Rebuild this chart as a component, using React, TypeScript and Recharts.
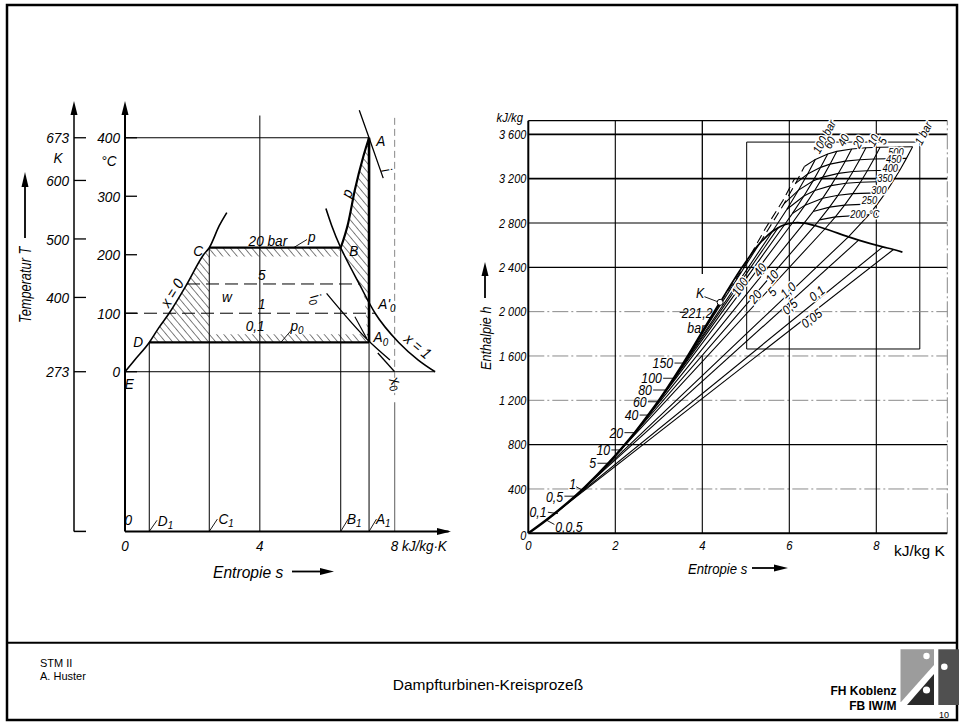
import React from 'react';
import {
  ComposedChart,
  Line,
  Area,
  XAxis,
  YAxis,
  ReferenceLine,
  ReferenceDot,
  ReferenceArea,
} from 'recharts';

const FONT = "'Liberation Sans', Arial, 'DejaVu Sans', sans-serif";
const SANS = "'Liberation Sans', Arial, sans-serif";

// ---------- T-s diagram (left) ----------
const tsTicksS = [0, 4, 8];
const tsTicksC = [0, 100, 200, 300, 400];
const tsTicksK = [273, 400, 500, 600, 673];

// boiling line x = 0  [s kJ/kgK, T degC]
const tsLiquid = [[0, 0], [0.3, 21], [0.72, 50], [1.0, 75], [1.31, 100], [1.84, 150], [2.33, 200], [2.5, 212], [2.8, 250], [3.02, 272]];
// dew line x = 1
const tsVapour = [[5.96, 279], [6.13, 250], [6.4, 212], [6.5, 200], [6.95, 150], [7.42, 100], [8.12, 50], [8.7, 20], [9.2, 0]];
// 20 bar superheating B -> A
const tsSuperheat = [[6.4, 212], [6.62, 254], [6.82, 311], [7.07, 368], [7.24, 400]];
const tsIsobar20 = [[2.5, 212], [6.4, 212]];
const tsIsobar01 = [[0.72, 50], [7.24, 50]];
const tsExpansion = [[7.24, 400], [7.24, 50]];
const tsEnthalpyA = [[6.95, 447], [7.24, 400], [7.66, 331]];
const tsEnthalpyA0 = [[5.98, 134], [7.24, 52], [7.86, 20]];
const tsX0 = [[7.5, 32], [8.0, 0]];
const tsArrowA0 = [[6.82, 94], [7.17, 57]];

// hatched parts of the cycle area [s, low T, high T]
const hatchLeft = [[0.72, 50, 50], [1.0, 50, 75], [1.31, 50, 100], [1.84, 50, 150], [2.33, 50, 200], [2.5, 50, 212]];
const hatchTop = [[2.5, 197, 212], [6.4, 197, 212]];
const hatchBottom = [[2.5, 50, 64], [7.24, 50, 64]];
const hatchRight = [[6.4, 212, 212], [6.5, 200, 232], [6.62, 186, 254], [6.82, 163, 311], [6.95, 150, 340], [7.07, 135, 368], [7.12, 120, 378], [7.18, 64, 390], [7.24, 50, 400]];

const toST = (a: number[][]) => a.map(([s, T]) => ({ s, T }));
const toRange = (a: number[][]) => a.map(([s, lo, hi]) => ({ s, r: [lo, hi] }));
const toSH = (a: number[][]) => a.map(([s, h]) => ({ s, h }));

// ---------- h-s diagram (right) ----------
const hsTicksS = [0, 2, 4, 6, 8];
const hsTicksH = [0, 400, 800, 1200, 1600, 2000, 2400, 2800, 3200, 3600];
const hsGridStrong = [800, 2400, 2800, 3200, 3600];
const hsGridLight = [400, 1200, 1600, 2000];

const hsLiquid = [[0, 0], [0.476, 138], [0.649, 192], [1.091, 340], [1.303, 417], [1.86, 640], [2.138, 763], [2.447, 908], [2.797, 1087], [3.027, 1213], [3.207, 1317], [3.36, 1408], [3.684, 1610], [4.015, 1827], [4.41, 2084]];
const hsVapour = [[4.41, 2084], [4.93, 2410], [5.31, 2611], [5.615, 2725], [5.745, 2758], [5.89, 2784], [6.07, 2800], [6.186, 2803], [6.339, 2799], [6.585, 2777], [6.821, 2748], [7.359, 2675], [7.593, 2645], [8.149, 2584], [8.395, 2561], [8.6, 2537]];

const p150 = [[3.684, 1610], [5.31, 2611]];
const p100 = [[3.36, 1408], [5.615, 2725], [5.946, 2924], [6.213, 3097], [6.422, 3242], [6.599, 3374]];
const p80 = [[3.207, 1317], [5.745, 2758]];
const p60 = [[3.027, 1213], [5.89, 2784], [6.07, 2885], [6.336, 3043], [6.543, 3178], [6.721, 3302], [6.883, 3423]];
const p40 = [[2.797, 1087], [6.07, 2800], [6.362, 2961], [6.584, 3093], [6.77, 3214], [6.936, 3331], [7.09, 3446]];
const p20 = [[2.447, 908], [6.339, 2799], [6.547, 2903], [6.768, 3024], [6.958, 3137], [7.129, 3248], [7.287, 3358], [7.434, 3468]];
const p10 = [[2.138, 763], [6.585, 2777], [6.694, 2828], [6.925, 2943], [7.123, 3051], [7.301, 3158], [7.465, 3264], [7.617, 3371], [7.762, 3479]];
const p5 = [[1.86, 640], [6.821, 2748], [7.059, 2855], [7.271, 2961], [7.46, 3065], [7.635, 3168], [7.794, 3272], [7.945, 3377], [8.087, 3484]];
const p1 = [[1.303, 417], [7.359, 2675], [7.834, 2875], [8.033, 2975], [8.215, 3074], [8.385, 3176], [8.543, 3278], [8.693, 3383], [8.834, 3488]];
const p05 = [[1.091, 340], [7.593, 2645]];
const p01 = [[0.649, 192], [8.149, 2584]];
const p005 = [[0.476, 138], [8.395, 2561]];
const pDashed150 = [[5.31, 2611], [5.881, 2975], [6.143, 3157], [6.348, 3310]];
const pDashedCrit = [[4.41, 2084], [4.95, 2400], [5.45, 2750], [5.85, 3000], [6.12, 3200]];

const t500 = [[6.348, 3310], [6.599, 3374], [6.883, 3423], [7.09, 3446], [7.434, 3468], [7.762, 3479], [8.087, 3484], [8.834, 3488]];
const t450 = [[6.143, 3157], [6.422, 3242], [6.721, 3302], [6.936, 3331], [7.287, 3358], [7.617, 3371], [7.945, 3377], [8.693, 3383]];
const t400 = [[5.881, 2975], [6.213, 3097], [6.543, 3178], [6.77, 3214], [7.129, 3248], [7.465, 3264], [7.794, 3272], [8.543, 3278]];
const t350 = [[5.946, 2924], [6.336, 3043], [6.584, 3093], [6.958, 3137], [7.301, 3158], [7.635, 3168], [8.385, 3176]];
const t300 = [[6.07, 2885], [6.362, 2961], [6.768, 3024], [7.123, 3051], [7.46, 3065], [8.215, 3074]];
const t250 = [[6.547, 2903], [6.925, 2943], [7.271, 2961], [8.033, 2975]];
const t200 = [[6.694, 2828], [7.059, 2855], [7.834, 2875]];

const hsThinLines = [p150, p80, p05, p01, p005, p100, p60, p40, p20, p10, p5, p1];
const hsIsotherms = [t500, t450, t400, t350, t300, t250, t200];

// ---------- labels ----------
type Lbl = [number, number, React.ReactNode, number?, string?];

const sub = (main: string, s: string) => (
  <>
    {main}
    <tspan fontSize="0.72em" dy="0.3em">{s}</tspan>
  </>
);

const tsLabels: Lbl[] = [
  [7.59, 396, 'A'], [6.79, 208, 'B'], [2.17, 208, 'C'], [0.39, 51, 'D'], [0.13, -20, 'E'],
  [0.1, -252, '0'], [7.59, 60, sub('A', '0')], [7.77, 117, sub("A'", '0')],
  [1.2, -254, sub('D', '1')], [3.0, -250, sub('C', '1')], [6.8, -250, sub('B', '1')], [7.66, -250, sub('A', '1')],
  [4.24, 225, '20 bar'], [5.54, 232, 'p'], [4.06, 167, '5'], [4.06, 116, '1'], [3.02, 129, 'w'],
  [3.86, 80, '0,1'], [5.1, 80, sub('p', '0')],
  [1.39, 135, 'x = 0', -58], [8.69, 44, 'x = 1', 40], [6.58, 305, 'p', -70],
  [7.76, 345, 'i', 70], [5.69, 125, sub('i', '0'), 65], [8.06, -19, sub('x', '0'), 65],
];
const tsLeaders = [
  [0.72, -273, 0.95, -254], [2.5, -273, 2.74, -252], [6.4, -273, 6.62, -252], [7.24, -273, 7.46, -252],
  [5.0, 212, 5.4, 226], [4.62, 50, 4.95, 72],
];

const hsLeftLabels: Lbl[] = [
  [3.33, 1536, '150', 0, 'end'], [3.07, 1399, '100', 0, 'end'], [2.84, 1293, '80', 0, 'end'],
  [2.72, 1187, '60', 0, 'end'], [2.53, 1067, '40', 0, 'end'], [2.18, 908, '20', 0, 'end'],
  [1.88, 752, '10', 0, 'end'], [1.56, 632, '5', 0, 'end'], [1.02, 445, '1'],
  [0.8, 325, '0,5', 0, 'end'], [0.42, 195, '0,1', 0, 'end'], [0.62, 60, '0,0,5', 0, 'start'],
  [3.95, 2165, 'K'], [3.88, 1990, '221,2'], [3.86, 1850, 'bar'],
];
const hsLeaders = [
  [3.36, 1536, 3.6, 1536], [3.1, 1399, 3.38, 1399], [2.87, 1293, 3.18, 1293], [2.75, 1187, 3.0, 1187],
  [2.56, 1067, 2.78, 1067], [2.21, 908, 2.47, 908], [1.91, 752, 2.16, 752], [1.59, 632, 1.83, 632],
  [1.1, 420, 1.26, 385], [0.83, 335, 1.12, 335], [0.45, 190, 0.68, 178], [0.6, 80, 0.42, 118],
  [4.05, 2135, 4.35, 2090], [3.48, 1993, 3.62, 1993],
];
const hsWetLabels: Lbl[] = [
  [4.86, 2225, '100', -56], [5.32, 2376, '40', -52], [5.21, 2135, '20', -52], [5.6, 2315, '10', -50],
  [5.6, 2180, '5', -48], [5.97, 2195, '1,0', -44], [6.01, 2045, '0,5', -42], [6.63, 2165, '0,1', -39],
  [6.51, 1940, '0,05', -38],
];
const hsTopLabels: Lbl[] = [
  [6.8, 3578, '100 bar', -62], [6.92, 3525, '60', -62], [7.24, 3548, '40', -62], [7.59, 3530, '20', -62],
  [7.93, 3548, '10', -62], [8.14, 3540, '5', -62], [9.08, 3609, '1 bar', -62],
];
const hsTempLabels: Lbl[] = [
  [8.45, 3440, '500'], [8.4, 3375, '450'], [8.32, 3293, '400'], [8.2, 3203, '350'],
  [8.06, 3098, '300'], [7.84, 3008, '250'], [7.58, 2881, '200'], [7.95, 2881, '°C'],
];

const CText = ({ x, y, rot = 0, anchor = 'middle', size = 15, sx = 0.88, knock = false, italic = true, family = FONT, children }: any) => (
  <text
    transform={`translate(${x} ${y}) rotate(${rot}) scale(${sx} 1)`}
    dy="0.36em"
    textAnchor={anchor}
    fontFamily={family}
    fontStyle={italic ? 'italic' : 'normal'}
    fontSize={size}
    fill="#000"
    stroke={knock ? '#fff' : 'none'}
    strokeWidth={knock ? 3 : 0}
    paintOrder="stroke"
  >
    {children}
  </text>
);

const labelShape = (text: React.ReactNode, rot = 0, anchor = 'middle', size = 15, knock = false) => (p: any) => (
  <CText x={p.cx} y={p.cy} rot={rot} anchor={anchor} size={size} knock={knock}>
    {text}
  </CText>
);

const SideTick = (props: any) => {
  const { x, y, payload } = props;
  return (
    <g>
      <line x1={x} y1={y} x2={x + 12} y2={y} stroke="#000" strokeWidth={1.3} />
      <CText x={x - 5} y={y} anchor="end" size={15.5} sx={0.88}>
        {payload.value}
      </CText>
    </g>
  );
};

const TsXTick = (props: any) => {
  const { x, y, payload } = props;
  const last = payload.value === 8;
  return (
    <CText x={last ? x - 4 : x} y={y + 14} anchor={last ? 'start' : 'middle'} size={15} sx={0.9}>
      {last ? '8  kJ/kg·K' : payload.value}
    </CText>
  );
};

const fmtH = (v: number) => (v >= 1000 ? `${Math.floor(v / 1000)} ${String(v % 1000).padStart(3, '0')}` : String(v));

const HsYTick = (props: any) => {
  const { x, y, payload } = props;
  return (
    <CText x={x - 2} y={payload.value === 0 ? y + 2 : y} anchor="end" size={13} sx={0.84}>
      {fmtH(payload.value)}
    </CText>
  );
};

const HsXTick = (props: any) => {
  const { x, y, payload } = props;
  return (
    <CText x={x} y={y + 12} size={13.5} sx={0.84}>
      {payload.value}
    </CText>
  );
};

function TsChart() {
  const line = (key: string, data: number[][], w = 1.2, extra: any = {}) => (
    <Line key={key} yAxisId="C" data={toST(data)} dataKey="T" type="monotone" stroke="#000" strokeWidth={w} dot={false} isAnimationActive={false} {...extra} />
  );
  const hatch = (key: string, data: number[][]) => (
    <Area key={key} yAxisId="C" data={toRange(data)} dataKey="r" type="linear" stroke="none" fill="url(#hatch)" fillOpacity={1} isAnimationActive={false} />
  );
  return (
    <ComposedChart width={470} height={640} margin={{ top: 105, right: 21.4, bottom: 78.6, left: 20 }}>
      <XAxis type="number" dataKey="s" domain={[0, 9.6]} ticks={tsTicksS} interval={0} allowDataOverflow height={30}
        tickLine={false} tickSize={0} tickMargin={0} axisLine={{ stroke: '#000', strokeWidth: 2 }} tick={<TsXTick />} />
      <YAxis yAxisId="C" type="number" domain={[-273, 456]} ticks={tsTicksC} interval={0} allowDataOverflow width={51}
        tickLine={false} tickSize={0} tickMargin={0} axisLine={{ stroke: '#000', strokeWidth: 2 }} tick={<SideTick />} />
      <YAxis yAxisId="K" type="number" domain={[0, 729]} ticks={tsTicksK} interval={0} allowDataOverflow width={54}
        tickLine={false} tickSize={0} tickMargin={0} axisLine={{ stroke: '#000', strokeWidth: 1.5 }} tick={<SideTick />} />

      {hatch('hl', hatchLeft)}
      {hatch('ht', hatchTop)}
      {hatch('hb', hatchBottom)}
      {hatch('hr', hatchRight)}

      <ReferenceLine yAxisId="C" segment={[{ x: 0, y: 400 }, { x: 7.24, y: 400 }]} stroke="#000" strokeWidth={1} />
      <ReferenceLine yAxisId="C" segment={[{ x: 0, y: 0 }, { x: 9.2, y: 0 }]} stroke="#000" strokeWidth={1} />
      <ReferenceLine yAxisId="C" segment={[{ x: 4, y: 438 }, { x: 4, y: -273 }]} stroke="#000" strokeWidth={1} />
      <ReferenceLine yAxisId="C" segment={[{ x: 8, y: 434 }, { x: 8, y: -40 }]} stroke="#888" strokeWidth={1} strokeDasharray="7 4" />
      <ReferenceLine yAxisId="C" segment={[{ x: 8, y: -52 }, { x: 8, y: -273 }]} stroke="#777" strokeWidth={1.2} />
      <ReferenceLine yAxisId="C" segment={[{ x: 0.72, y: 50 }, { x: 0.72, y: -273 }]} stroke="#000" strokeWidth={1} />
      <ReferenceLine yAxisId="C" segment={[{ x: 2.5, y: 212 }, { x: 2.5, y: -273 }]} stroke="#000" strokeWidth={1} />
      <ReferenceLine yAxisId="C" segment={[{ x: 6.4, y: 212 }, { x: 6.4, y: -273 }]} stroke="#000" strokeWidth={1} />
      <ReferenceLine yAxisId="C" segment={[{ x: 7.24, y: 50 }, { x: 7.24, y: -273 }]} stroke="#000" strokeWidth={1} />
      <ReferenceLine yAxisId="C" segment={[{ x: 1.84, y: 150 }, { x: 6.95, y: 150 }]} stroke="#000" strokeWidth={1} strokeDasharray="13 6" />
      <ReferenceLine yAxisId="C" segment={[{ x: 0, y: 100 }, { x: 7.42, y: 100 }]} stroke="#000" strokeWidth={1} strokeDasharray="13 6" />
      {tsLeaders.map(([x1, y1, x2, y2], i) => (
        <ReferenceLine key={`tl${i}`} yAxisId="C" segment={[{ x: x1, y: y1 }, { x: x2, y: y2 }]} stroke="#000" strokeWidth={0.9} />
      ))}

      {line('liq', tsLiquid, 1.6)}
      {line('vap', tsVapour, 1.6)}
      {line('sup', tsSuperheat, 2.2)}
      {line('i20', tsIsobar20, 2.3, { type: 'linear' })}
      {line('i01', tsIsobar01, 2.3, { type: 'linear' })}
      {line('exp', tsExpansion, 2.6, { type: 'linear' })}
      {line('ha', tsEnthalpyA, 1.3)}
      {line('ha0', tsEnthalpyA0, 1.3)}
      {line('x0', tsX0, 1.3, { type: 'linear' })}
      {line('arr', tsArrowA0, 1.1, { type: 'linear' })}

      {tsLabels.map(([s, T, text, rot], i) => (
        <ReferenceDot key={`tx${i}`} yAxisId="C" x={s} y={T} r={1} shape={labelShape(text, rot ?? 0, 'middle', 15.5)} />
      ))}
    </ComposedChart>
  );
}

function HsChart() {
  const line = (key: string, data: number[][], w = 1.1, extra: any = {}) => (
    <Line key={key} data={toSH(data)} dataKey="h" type="linear" stroke="#000" strokeWidth={w} dot={false} isAnimationActive={false} {...extra} />
  );
  return (
    <ComposedChart width={489} height={640} margin={{ top: 120.7, right: 11.7, bottom: 86.7, left: 13.3 }}>
      <XAxis type="number" dataKey="s" domain={[0, 9.632]} ticks={hsTicksS} interval={0} allowDataOverflow height={20}
        tickLine={false} tickSize={0} tickMargin={0} axisLine={{ stroke: '#000', strokeWidth: 2 }} tick={<HsXTick />} />
      <YAxis type="number" domain={[0, 3723]} ticks={hsTicksH} interval={0} allowDataOverflow width={45}
        tickLine={false} tickSize={0} tickMargin={0} axisLine={{ stroke: '#000', strokeWidth: 2 }} tick={<HsYTick />} />

      {hsGridLight.map((h) => (
        <ReferenceLine key={`gl${h}`} y={h} stroke="#8a8a8a" strokeWidth={1} strokeDasharray="16 3 2 3" />
      ))}
      {hsGridStrong.map((h) => (
        <ReferenceLine key={`gs${h}`} y={h} stroke="#000" strokeWidth={h === 3600 || h === 3200 ? 1.6 : 1.2} />
      ))}
      {[2, 6, 8].map((s) => (
        <ReferenceLine key={`gv${s}`} x={s} stroke="#000" strokeWidth={1.1} />
      ))}
      <ReferenceLine segment={[{ x: 4, y: 0 }, { x: 4, y: 1600 }]} stroke="#000" strokeWidth={1.1} />
      <ReferenceLine segment={[{ x: 4, y: 2340 }, { x: 4, y: 3723 }]} stroke="#000" strokeWidth={1.3} />
      <ReferenceLine y={3723} stroke="#000" strokeWidth={1.2} />
      <ReferenceLine x={9.632} stroke="#888" strokeWidth={1} strokeDasharray="16 3 2 3" />
      <ReferenceArea x1={5.02} x2={9.0} y1={1663} y2={3530} fill="none" stroke="#000" strokeWidth={1} />

      {hsThinLines.map((d, i) => line(`p${i}`, d, 1.1))}
      {hsIsotherms.map((d, i) => line(`t${i}`, d, 1.1))}
      {line('pd150', pDashed150, 1.1, { strokeDasharray: '9 5' })}
      {line('pdk', pDashedCrit, 1.1, { strokeDasharray: '9 5' })}
      {line('liq', hsLiquid, 2.4, { type: 'monotone' })}
      {line('vap', hsVapour, 1.7, { type: 'monotone' })}

      {hsLeaders.map(([x1, y1, x2, y2], i) => (
        <ReferenceLine key={`hl${i}`} segment={[{ x: x1, y: y1 }, { x: x2, y: y2 }]} stroke="#000" strokeWidth={0.9} />
      ))}
      <ReferenceDot x={4.41} y={2084} r={3} fill="#fff" stroke="#000" strokeWidth={1} />

      {hsLeftLabels.map(([s, h, text, rot, anchor], i) => (
        <ReferenceDot key={`hll${i}`} x={s} y={h} r={1} shape={labelShape(text, rot ?? 0, anchor ?? 'middle', 14)} />
      ))}
      {hsWetLabels.map(([s, h, text, rot], i) => (
        <ReferenceDot key={`hwl${i}`} x={s} y={h} r={1} shape={labelShape(text, rot ?? 0, 'middle', 13, true)} />
      ))}
      {hsTopLabels.map(([s, h, text, rot], i) => (
        <ReferenceDot key={`htl${i}`} x={s} y={h} r={1} shape={labelShape(text, rot ?? 0, 'middle', 12, true)} />
      ))}
      {hsTempLabels.map(([s, h, text], i) => (
        <ReferenceDot key={`hte${i}`} x={s} y={h} r={1} shape={labelShape(text, 0, 'middle', 10.5, true)} />
      ))}
    </ComposedChart>
  );
}

export default function App() {
  return (
    <div style={{ position: 'relative', width: 959, height: 722, background: '#fff', overflow: 'hidden' }}>
      <style>{'body{margin:0}'}</style>
      <svg width={0} height={0} style={{ position: 'absolute' }}>
        <defs>
          <pattern id="hatch" width="5.5" height="5.5" patternUnits="userSpaceOnUse" patternTransform="rotate(-40)">
            <line x1="0" y1="0" x2="0" y2="5.5" stroke="#000" strokeWidth="1" />
          </pattern>
        </defs>
      </svg>
      <div style={{ position: 'absolute', left: 0, top: 0 }}>
        <TsChart />
      </div>
      <div style={{ position: 'absolute', left: 470, top: 0 }}>
        <HsChart />
      </div>
      <svg width={959} height={722} style={{ position: 'absolute', left: 0, top: 0, pointerEvents: 'none' }}>
        {/* slide frame */}
        <rect x={7} y={5} width={950} height={715} fill="none" stroke="#000" strokeWidth={2.5} />
        <line x1={7} y1={642.7} x2={957} y2={642.7} stroke="#000" strokeWidth={2} />

        {/* left diagram axis decorations */}
        <polygon points="125,101 121.5,115 128.5,115" fill="#000" />
        <polygon points="74,101 70.5,115 77.5,115" fill="#000" />
        <polygon points="451,531.4 437,527.9 437,534.9" fill="#000" />
        <line x1={74} y1={531.4} x2={86} y2={531.4} stroke="#000" strokeWidth={1.5} />
        <CText x={58} y={157} size={15.5}>K</CText>
        <CText x={109} y={160} size={15.5}>°C</CText>
        <CText x={25} y={323} rot={-90} anchor="start" size={16} sx={0.8}>Temperatur  T</CText>
        <line x1={25} y1={238} x2={25} y2={185} stroke="#000" strokeWidth={1.8} />
        <polygon points="25,172 21.5,187 28.5,187" fill="#000" />
        <CText x={213} y={572} anchor="start" size={17} sx={0.92}>Entropie  s</CText>
        <line x1={292} y1={571.5} x2={322} y2={571.5} stroke="#000" strokeWidth={1.8} />
        <polygon points="334,571.5 320,568 320,575" fill="#000" />

        {/* right diagram axis decorations */}
        <CText x={523} y={117} anchor="end" size={13.5} sx={0.84}>kJ/kg</CText>
        <CText x={485} y={370} rot={-90} anchor="start" size={15.5} sx={0.82}>Enthalpie  h</CText>
        <line x1={485} y1={298} x2={485} y2={275} stroke="#000" strokeWidth={1.8} />
        <polygon points="485,262 481.5,276 488.5,276" fill="#000" />
        <CText x={688} y={568} anchor="start" size={15.5} sx={0.85}>Entropie  s</CText>
        <line x1={752} y1={568} x2={776} y2={568} stroke="#000" strokeWidth={1.8} />
        <polygon points="788,568 774,564.5 774,571.5" fill="#000" />
        <text x={894} y={556} fontSize={15.5} fontFamily={SANS}>kJ/kg K</text>

        {/* footer */}
        <text x={40} y={667} fontSize={11} fontFamily={SANS}>STM II</text>
        <text x={40} y={680} fontSize={11} fontFamily={SANS}>A. Huster</text>
        <text x={488} y={690} textAnchor="middle" fontSize={15.5} fontFamily={SANS}>Dampfturbinen-Kreisprozeß</text>
        <text x={896.5} y={695} textAnchor="end" fontSize={12} fontWeight="bold" fontFamily={SANS}>FH Koblenz</text>
        <text x={896.5} y={710} textAnchor="end" fontSize={12} fontWeight="bold" fontFamily={SANS}>FB IW/M</text>
        <polygon points="900.5,649.3 934,649.3 934,665 901,702 900.5,702" fill="#9c9c9c" />
        <polygon points="907,705 934,705 934,674" fill="#2a2a2a" />
        <circle cx={926.5} cy={656} r={3.2} fill="#fff" />
        <circle cx={926.5} cy={690} r={3.6} fill="#fff" />
        <rect x={938.3} y={649.3} width={20.7} height={55.7} fill="#505050" />
        <circle cx={944.3} cy={666.7} r={3.3} fill="#fff" />
        <text x={939} y={718} fontSize={9} fontFamily={SANS}>10</text>
      </svg>
    </div>
  );
}
